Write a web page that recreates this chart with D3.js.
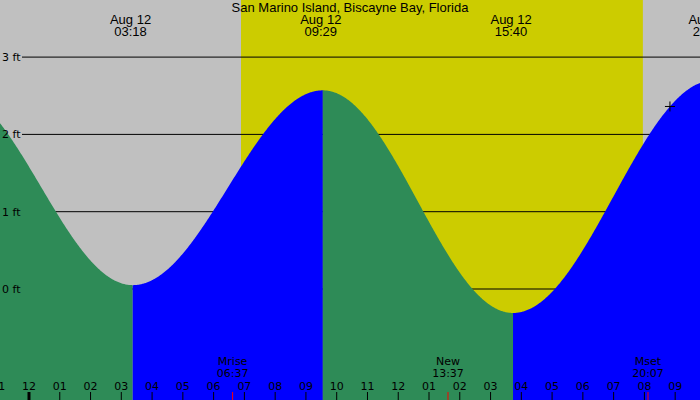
<!DOCTYPE html>
<html><head><meta charset="utf-8">
<script src="https://cdn.jsdelivr.net/npm/d3@7"></script>
<style>body{margin:0;background:#fff}svg{display:block}</style>
</head><body><svg id="c" width="700" height="400"></svg>
<script>
const title = "San Marino Island, Biscayne Bay, Florida";
// tide extremes: hours from midnight Aug 12, height ft
const extremeTimes = [-2.6, 3.37, 9.55, 15.73, 22.25];
const extremeHeights = [2.6, 0.05, 2.57, -0.31, 2.7];
const extremeLabels = [null, "03:18", "09:29", "15:40", "21:54"];
const extremeLabelTimes = [null, 3.3, 9.483, 15.667, 22.1];
const sunrise = 6.89, sunset = 19.95;
const moonTimes = [6.617, 13.617, 20.117];
const moonNames = ["Mrise", "New", "Mset"];
const moonLabels = ["06:37", "13:37", "20:07"];
const ftTicks = [0, 1, 2, 3];
const hourTicks = d3.range(-1, 22);
const markerTime = 20.83;

const W = 700, H = 400;
const x = d3.scaleLinear().domain([0, 1]).range([29, 29 + 30.77]);
const y = d3.scaleLinear().domain([0, 1]).range([289, 289 - 77.3]);
const svg = d3.select("#c");

function tide(t) {
  for (let i = 0; i < extremeTimes.length - 1; i++) {
    const a = extremeTimes[i], b = extremeTimes[i + 1];
    if (t >= a && t <= b) {
      const f = (t - a) / (b - a);
      const ha = extremeHeights[i], hb = extremeHeights[i + 1];
      return ha + (hb - ha) * (1 - Math.cos(Math.PI * f)) / 2;
    }
  }
  return extremeHeights[extremeHeights.length - 1];
}

svg.append("rect").attr("width", W).attr("height", H).attr("fill", "#c0c0c0");
svg.append("rect").attr("x", x(sunrise)).attr("y", 0).attr("width", x(sunset) - x(sunrise)).attr("height", H).attr("fill", "#cccc00");

ftTicks.forEach(v => {
  svg.append("line").attr("x1", 22).attr("x2", W).attr("y1", y(v)).attr("y2", y(v)).attr("stroke", "#000").attr("stroke-width", 1);
});

const t0 = x.invert(0), t1 = x.invert(W);
for (let i = 0; i < extremeTimes.length - 1; i++) {
  const a = Math.max(extremeTimes[i], t0), b = Math.min(extremeTimes[i + 1], t1);
  if (b <= a) continue;
  const rising = extremeHeights[i + 1] > extremeHeights[i];
  const pts = d3.range(a, b, 0.02).concat([b]);
  const area = d3.area().x(t => x(t)).y0(H).y1(t => y(tide(t)));
  svg.append("path").attr("d", area(pts)).attr("fill", rising ? "#0000ff" : "#2e8b57");
}

ftTicks.forEach(v => {
  svg.append("text").attr("x", 2).attr("y", y(v) + 4).text(v + " ft")
    .attr("font-family", "DejaVu Sans").attr("font-size", 11).attr("fill", "#000");
});

// marker
const mx = x(markerTime), my = y(tide(markerTime));
svg.append("path").attr("d", `M${mx-5},${my}H${mx+5}M${mx},${my-5}V${my+5}`).attr("stroke", "#000").attr("stroke-width", 1);

// title
svg.append("text").attr("x", 350).attr("y", 12).attr("text-anchor", "middle").text(title)
  .attr("font-family", "Liberation Sans Narrow, Arial Narrow, sans-serif").attr("font-size", 13);
extremeLabels.forEach((l, i) => {
  if (!l) return;
  const g = svg.append("text").attr("text-anchor", "middle")
    .attr("font-family", "Liberation Sans Narrow, Arial Narrow, sans-serif").attr("font-size", 13);
  g.append("tspan").attr("x", x(extremeLabelTimes[i])).attr("y", 24).text("Aug 12");
  g.append("tspan").attr("x", x(extremeLabelTimes[i])).attr("y", 36).text(l);
});

// hour ticks
hourTicks.forEach(h => {
  const hh = ((h % 12) + 12) % 12 || 12;
  svg.append("line").attr("x1", x(h)).attr("x2", x(h)).attr("y1", 392).attr("y2", 400)
    .attr("stroke", "#000").attr("stroke-width", h === 0 ? 3 : 1);
  svg.append("text").attr("x", x(h)).attr("y", 390).attr("text-anchor", "middle")
    .text(String(hh).padStart(2, "0")).attr("font-family", "DejaVu Sans").attr("font-size", 11);
});
moonTimes.forEach((t, i) => {
  svg.append("line").attr("x1", x(t)).attr("x2", x(t)).attr("y1", 392).attr("y2", 400).attr("stroke", "#ff0000");
  const g = svg.append("text").attr("text-anchor", "middle").attr("font-family", "DejaVu Sans").attr("font-size", 11);
  g.append("tspan").attr("x", x(t)).attr("y", 365).text(moonNames[i]);
  g.append("tspan").attr("x", x(t)).attr("y", 377).text(moonLabels[i]);
});
</script></body></html>
